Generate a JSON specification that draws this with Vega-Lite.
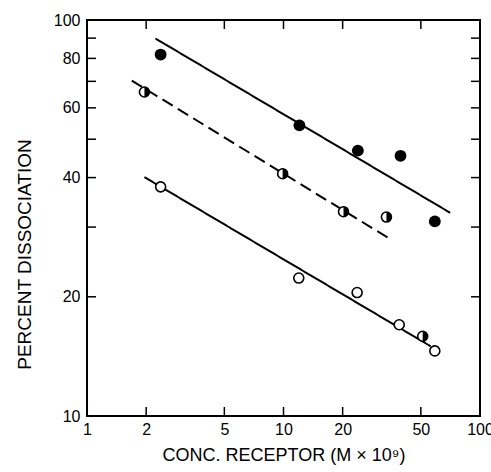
{
  "$schema": "https://vega.github.io/schema/vega-lite/v6.json",
  "width": 393,
  "height": 396,
  "autosize": "none",
  "padding": {"left": 87, "top": 20, "right": 11, "bottom": 56},
  "background": "white",
  "config": {
    "view": {"stroke": "black", "strokeWidth": 2},
    "font": "Liberation Sans",
    "axis": {
      "grid": false,
      "domain": false,
      "ticks": false,
      "labelColor": "black",
      "labelFontSize": 16,
      "labelFont": "Liberation Sans",
      "labelFlush": false,
      "labelOverlap": false,
      "titleColor": "black",
      "titleFont": "Liberation Sans",
      "titleFontWeight": "normal"
    }
  },
  "datasets": {
    "lines": [
      {"series": "filled", "x": 2.23, "y": 89.8},
      {"series": "filled", "x": 70.5, "y": 32.6},
      {"series": "half", "x": 1.69, "y": 70.3},
      {"series": "half", "x": 34.8, "y": 28.0},
      {"series": "open", "x": 1.96, "y": 40.1},
      {"series": "open", "x": 56.1, "y": 15.0}
    ],
    "points": [
      {"type": "filled", "x": 2.37, "y": 81.8},
      {"type": "filled", "x": 12.05, "y": 54.2},
      {"type": "filled", "x": 23.9, "y": 46.8},
      {"type": "filled", "x": 39.4, "y": 45.4},
      {"type": "filled", "x": 58.9, "y": 31.0},
      {"type": "half", "x": 1.96, "y": 65.8},
      {"type": "half", "x": 9.9, "y": 40.9},
      {"type": "half", "x": 20.2, "y": 32.8},
      {"type": "half", "x": 33.4, "y": 31.8},
      {"type": "half", "x": 51.1, "y": 15.9},
      {"type": "open", "x": 2.37, "y": 37.9},
      {"type": "open", "x": 11.96, "y": 22.3},
      {"type": "open", "x": 23.7, "y": 20.5},
      {"type": "open", "x": 38.8, "y": 17.0},
      {"type": "open", "x": 58.9, "y": 14.6}
    ],
    "xticks": [
      {"x": 2, "y": 10}, {"x": 5, "y": 10}, {"x": 10, "y": 10}, {"x": 20, "y": 10}, {"x": 50, "y": 10},
      {"x": 2, "y": 100}, {"x": 5, "y": 100}, {"x": 10, "y": 100}, {"x": 20, "y": 100}, {"x": 50, "y": 100}
    ],
    "yticks": [
      {"x": 1, "y": 20}, {"x": 1, "y": 30}, {"x": 1, "y": 40}, {"x": 1, "y": 50}, {"x": 1, "y": 60}, {"x": 1, "y": 70}, {"x": 1, "y": 80}, {"x": 1, "y": 90},
      {"x": 100, "y": 20}, {"x": 100, "y": 30}, {"x": 100, "y": 40}, {"x": 100, "y": 50}, {"x": 100, "y": 60}, {"x": 100, "y": 70}, {"x": 100, "y": 80}, {"x": 100, "y": 90}
    ]
  },
  "layer": [
    {
      "data": {"name": "lines"},
      "mark": {"type": "line", "color": "black", "strokeWidth": 2},
      "encoding": {
        "x": {
          "field": "x", "type": "quantitative",
          "scale": {"type": "log", "domain": [1, 100], "nice": false},
          "axis": {
            "orient": "bottom",
            "values": [1, 2, 5, 10, 20, 50, 100],
            "format": "d",
            "labelPadding": 5,
            "title": "CONC. RECEPTOR (M × 10⁹)",
            "titleFontSize": 18,
            "titlePadding": 9
          }
        },
        "y": {
          "field": "y", "type": "quantitative",
          "scale": {"type": "log", "domain": [10, 100], "nice": false},
          "axis": {
            "orient": "left",
            "values": [10, 20, 40, 60, 80, 100],
            "format": "d",
            "labelPadding": 7,
            "title": "PERCENT DISSOCIATION",
            "titleFontSize": 19,
            "titlePadding": 19,
            "titleY": 234
          }
        },
        "detail": {"field": "series"},
        "strokeDash": {
          "field": "series", "type": "nominal",
          "scale": {"domain": ["filled", "half", "open"], "range": [[1, 0], [12, 6], [1, 0]]},
          "legend": null
        }
      }
    },
    {
      "data": {"name": "xticks"},
      "mark": {"type": "tick", "orient": "vertical", "color": "black", "size": 18, "thickness": 1.5, "opacity": 1, "clip": true},
      "encoding": {
        "x": {"field": "x", "type": "quantitative"},
        "y": {"field": "y", "type": "quantitative"}
      }
    },
    {
      "data": {"name": "yticks"},
      "mark": {"type": "tick", "orient": "horizontal", "color": "black", "size": 18, "thickness": 1.5, "opacity": 1, "clip": true},
      "encoding": {
        "x": {"field": "x", "type": "quantitative"},
        "y": {"field": "y", "type": "quantitative"}
      }
    },
    {
      "data": {"name": "points"},
      "transform": [{"filter": "datum.type == 'filled'"}],
      "mark": {"type": "point", "shape": "circle", "filled": true, "color": "black", "size": 140, "opacity": 1},
      "encoding": {
        "x": {"field": "x", "type": "quantitative"},
        "y": {"field": "y", "type": "quantitative"}
      }
    },
    {
      "data": {"name": "points"},
      "transform": [{"filter": "datum.type != 'filled'"}],
      "mark": {"type": "point", "shape": "circle", "filled": false, "fill": "white", "fillOpacity": 1, "stroke": "black", "strokeWidth": 1.6, "size": 100, "opacity": 1},
      "encoding": {
        "x": {"field": "x", "type": "quantitative"},
        "y": {"field": "y", "type": "quantitative"}
      }
    },
    {
      "data": {"name": "points"},
      "transform": [{"filter": "datum.type == 'half'"}],
      "mark": {"type": "point", "shape": "M0,-1A1,1 0 0,1 0,1Z", "filled": true, "color": "black", "size": 100, "opacity": 1},
      "encoding": {
        "x": {"field": "x", "type": "quantitative"},
        "y": {"field": "y", "type": "quantitative"}
      }
    }
  ]
}
